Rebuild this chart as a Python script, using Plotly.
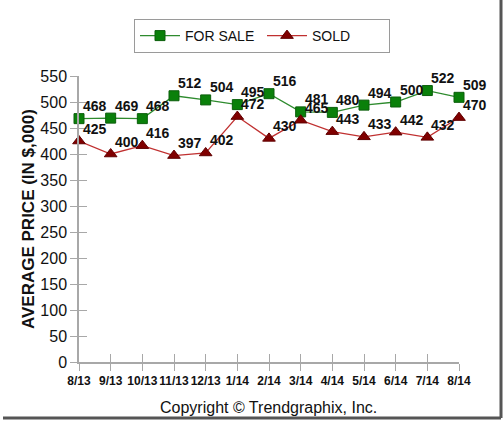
import plotly.graph_objs as go

# Average price chart, 8/13 - 8/14
months = ["8/13", "9/13", "10/13", "11/13", "12/13", "1/14", "2/14",
          "3/14", "4/14", "5/14", "6/14", "7/14", "8/14"]
for_sale = [468, 469, 468, 512, 504, 495, 516, 481, 480, 494, 500, 522, 509]
sold = [425, 400, 416, 397, 402, 472, 430, 465, 443, 433, 442, 432, 470]

W, H = 504, 421
L, R, T, B = 79, 45, 76, 59
pw, ph = W - L - R, H - T - B


def px(x):
    return (x - L) / pw


def py(y):
    return (H - B - y) / ph


FONT = "Liberation Sans, Arial, sans-serif"
AXIS = "#a8a8a8"
LABEL_FONT = dict(family=FONT, size=14, color="#111111", weight="bold")

fig = go.Figure()

fig.add_trace(go.Scatter(
    x=months,
    y=for_sale,
    mode="lines+markers",
    name="FOR SALE",
    line=dict(color="#2e8b2e", width=1.3),
    marker=dict(symbol="square", size=10, color="#0a800a",
                line=dict(color="#0b5e0b", width=1)),
    cliponaxis=False
))

fig.add_trace(go.Scatter(
    x=months,
    y=sold,
    mode="lines+markers",
    name="SOLD",
    line=dict(color="#c03030", width=1.3),
    marker=dict(symbol="triangle-up", size=11, color="#800000",
                line=dict(color="#600000", width=1)),
    cliponaxis=False
))

# invisible copy on overlay axes, used only for the inner half of the ticks
fig.add_trace(go.Scatter(
    x=months, y=sold, xaxis="x2", yaxis="y2", mode="markers",
    opacity=0, showlegend=False, hoverinfo="skip"
))

# value labels, up and to the right of each point
labels = []
for series in (for_sale, sold):
    for m, v in zip(months, series):
        labels.append(dict(text=str(v), x=m, y=v, xref="x", yref="y",
                           xanchor="left", yanchor="middle",
                           xshift=2, yshift=12.5, showarrow=False,
                           font=LABEL_FONT))

fig.update_layout(
    width=W,
    height=H,
    margin=dict(l=L, r=R, t=T, b=B),
    paper_bgcolor="white",
    plot_bgcolor="white",
    font=dict(family=FONT, color="#111111"),
    showlegend=True,
    legend=dict(
        orientation="h",
        x=px(134), xanchor="left",
        y=py(19), yanchor="top",
        bordercolor="#9a9a9a", borderwidth=1,
        font=dict(family=FONT, size=14, color="#111111"),
        itemwidth=40,
        entrywidth=72,
        tracegroupgap=0
    ),
    xaxis=dict(
        type="category",
        range=[0, 12],
        tickangle=0,
        showline=True, linecolor=AXIS, linewidth=1.5,
        ticks="outside", ticklen=7, tickcolor=AXIS, tickwidth=1,
        showgrid=False, zeroline=False,
        tickfont=dict(family=FONT, size=12, color="#111111", weight="bold")
    ),
    yaxis=dict(
        range=[0, 550],
        dtick=50,
        showline=True, linecolor=AXIS, linewidth=1.5,
        ticks="outside", ticklen=7, tickcolor=AXIS, tickwidth=1,
        showgrid=False, zeroline=False,
        tickfont=dict(family=FONT, size=16, color="#111111")
    ),
    xaxis2=dict(
        type="category", overlaying="x", anchor="y", side="bottom",
        range=[0, 12], showline=False, showgrid=False, zeroline=False,
        ticks="inside", ticklen=8, tickcolor=AXIS, tickwidth=1,
        showticklabels=False
    ),
    yaxis2=dict(
        overlaying="y", anchor="x", side="left",
        range=[0, 550], dtick=50, showline=False, showgrid=False,
        zeroline=False, ticks="inside", ticklen=8, tickcolor=AXIS,
        tickwidth=1, showticklabels=False
    ),
    annotations=labels + [
        dict(text="AVERAGE PRICE (IN $,000)", textangle=-90,
             xref="paper", yref="paper", x=px(28), y=py(219),
             xanchor="center", yanchor="middle", showarrow=False,
             font=dict(family=FONT, size=17, color="#111111", weight="bold")),
        dict(text="Copyright © Trendgraphix, Inc.",
             xref="paper", yref="paper", x=px(268), y=py(407),
             xanchor="center", yanchor="middle", showarrow=False,
             font=dict(family=FONT, size=16, color="#111111"))
    ],
    shapes=[
        # frame shadow on the right and bottom
        dict(type="line", xref="paper", yref="paper",
             x0=px(501), x1=px(501), y0=py(0), y1=py(418),
             line=dict(color="#555555", width=3)),
        dict(type="line", xref="paper", yref="paper",
             x0=px(3), x1=px(501), y0=py(418), y1=py(418),
             line=dict(color="#555555", width=3))
    ]
)

fig.write_html("out.html", config={"displayModeBar": False},
               post_script="document.body.style.margin='0px';")
